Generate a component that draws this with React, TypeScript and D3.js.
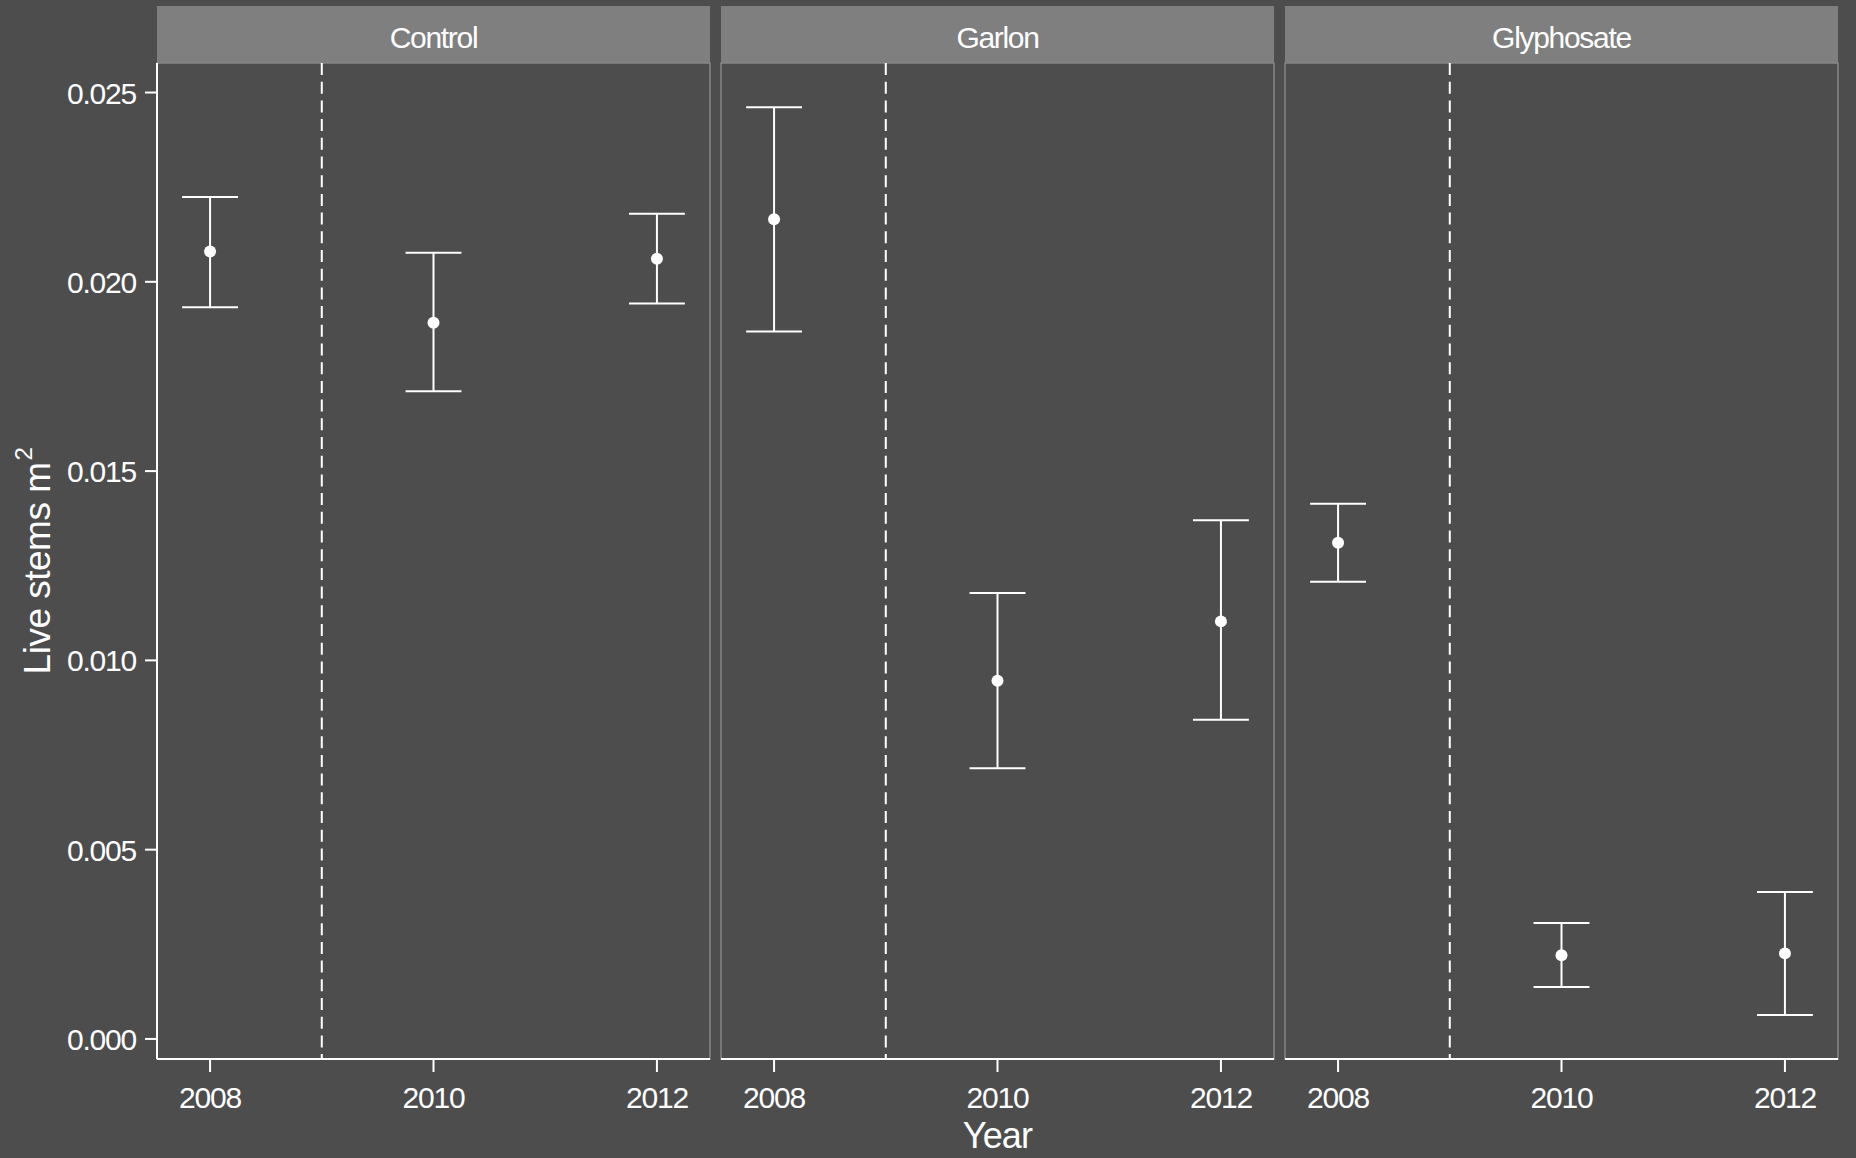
import React from "react";
import * as d3 from "d3";

// Live stem density (stems per m²) by herbicide treatment and survey year,
// shown as mean ± error.
const treatments = ["Control", "Garlon", "Glyphosate"];
const years = [2008, 2010, 2012];

const meanControl = [0.0208, 0.01892, 0.02061];
const lowerControl = [0.01933, 0.01711, 0.01943];
const upperControl = [0.02224, 0.02077, 0.0218];

const meanGarlon = [0.02165, 0.00946, 0.01103];
const lowerGarlon = [0.01869, 0.00715, 0.00843];
const upperGarlon = [0.02461, 0.01178, 0.0137];

const meanGlyphosate = [0.01311, 0.00221, 0.00226];
const lowerGlyphosate = [0.01208, 0.00137, 0.00063];
const upperGlyphosate = [0.01414, 0.00306, 0.00388];

const yTicks = [0, 0.005, 0.01, 0.015, 0.02, 0.025];
const xTicks = [2008, 2010, 2012];
const treatmentYear = 2009;

const seriesByTreatment = [
  { mean: meanControl, lower: lowerControl, upper: upperControl },
  { mean: meanGarlon, lower: lowerGarlon, upper: upperGarlon },
  { mean: meanGlyphosate, lower: lowerGlyphosate, upper: upperGlyphosate },
];

const W = 1856;
const H = 1158;
const BG = "#4d4d4d";
const STRIP = "#7f7f7f";
const FONT = "'Liberation Sans', Arial, Helvetica, sans-serif";

const panelLeft = 157;
const panelWidth = 553;
const panelGap = 11;
const stripTop = 6;
const panelTop = 63;
const panelBottom = 1059;
const capHalf = 0.25; // error bar cap half-width, in years

export default function App() {
  const x = d3
    .scaleLinear()
    .domain([2007.525, 2012.475])
    .range([0, panelWidth]);
  const y = d3
    .scaleLinear()
    .domain([-0.00053, 0.02578])
    .range([panelBottom, panelTop]);
  const fmt = d3.format(".3f");

  return (
    <svg
      width={W}
      height={H}
      style={{ position: "absolute", left: 0, top: 0, display: "block" }}
      fontFamily={FONT}
    >
      <rect x={0} y={0} width={W} height={H} fill={BG} />

      {treatments.map((name, i) => {
        const px = panelLeft + i * (panelWidth + panelGap);
        const s = seriesByTreatment[i];
        return (
          <g key={name} transform={`translate(${px},0)`}>
            {/* strip */}
            <rect
              x={0}
              y={stripTop}
              width={panelWidth}
              height={panelTop - stripTop}
              fill={STRIP}
            />
            <text
              x={panelWidth / 2}
              y={48}
              fill="#ffffff"
              fontSize={30}
              textAnchor="middle"
              letterSpacing={-1.3}
            >
              {name}
            </text>

            {/* panel */}
            <rect
              x={0}
              y={panelTop}
              width={panelWidth}
              height={panelBottom - panelTop}
              fill={BG}
              stroke="#858585"
              strokeWidth={1.5}
            />

            {/* treatment application line */}
            <line
              x1={x(treatmentYear)}
              x2={x(treatmentYear)}
              y1={panelTop}
              y2={panelBottom}
              stroke="#ffffff"
              strokeWidth={2}
              strokeDasharray="12,6.7"
            />

            {/* error bars and means */}
            {years.map((yr, j) => (
              <g key={yr}>
                <line
                  x1={x(yr)}
                  x2={x(yr)}
                  y1={y(s.lower[j])}
                  y2={y(s.upper[j])}
                  stroke="#ffffff"
                  strokeWidth={2}
                />
                <line
                  x1={x(yr - capHalf)}
                  x2={x(yr + capHalf)}
                  y1={y(s.upper[j])}
                  y2={y(s.upper[j])}
                  stroke="#ffffff"
                  strokeWidth={2}
                />
                <line
                  x1={x(yr - capHalf)}
                  x2={x(yr + capHalf)}
                  y1={y(s.lower[j])}
                  y2={y(s.lower[j])}
                  stroke="#ffffff"
                  strokeWidth={2}
                />
                <circle cx={x(yr)} cy={y(s.mean[j])} r={6} fill="#ffffff" />
              </g>
            ))}

            {/* bottom axis */}
            <line
              x1={0}
              x2={panelWidth}
              y1={panelBottom}
              y2={panelBottom}
              stroke="#ffffff"
              strokeWidth={2}
            />
            {xTicks.map((t) => (
              <g key={t}>
                <line
                  x1={x(t)}
                  x2={x(t)}
                  y1={panelBottom}
                  y2={panelBottom + 13}
                  stroke="#ffffff"
                  strokeWidth={2}
                />
                <text
                  x={x(t)}
                  y={1108}
                  fill="#ffffff"
                  fontSize={30}
                  textAnchor="middle"
                  letterSpacing={-1.2}
                >
                  {t}
                </text>
              </g>
            ))}
          </g>
        );
      })}

      {/* left axis */}
      <line
        x1={panelLeft}
        x2={panelLeft}
        y1={panelTop}
        y2={panelBottom}
        stroke="#ffffff"
        strokeWidth={2}
      />
      {yTicks.map((t) => (
        <g key={t}>
          <line
            x1={panelLeft - 12}
            x2={panelLeft}
            y1={y(t)}
            y2={y(t)}
            stroke="#ffffff"
            strokeWidth={2}
          />
          <text
            x={136}
            y={y(t) + 11}
            fill="#ffffff"
            fontSize={30}
            textAnchor="end"
            letterSpacing={-1.2}
          >
            {fmt(t)}
          </text>
        </g>
      ))}

      {/* axis titles */}
      <text
        x={(panelLeft + panelLeft + 3 * panelWidth + 2 * panelGap) / 2}
        y={1148}
        fill="#ffffff"
        fontSize={36}
        textAnchor="middle"
        letterSpacing={-0.8}
      >
        Year
      </text>
      <text
        transform={`translate(50,${(panelTop + panelBottom) / 2}) rotate(-90)`}
        fill="#ffffff"
        fontSize={37}
        textAnchor="middle"
        letterSpacing={-0.5}
      >
        Live stems m
        <tspan fontSize={24} dx={2} dy={-18}>
          2
        </tspan>
      </text>
    </svg>
  );
}
